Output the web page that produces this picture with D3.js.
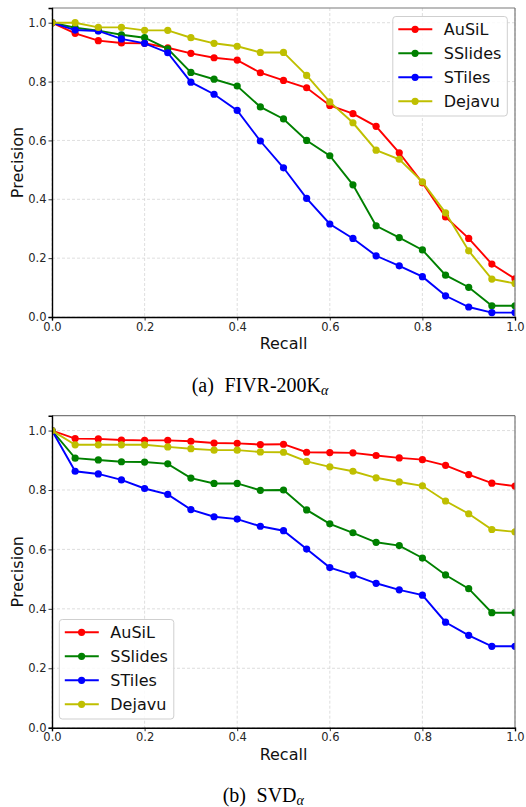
<!DOCTYPE html>
<html>
<head>
<meta charset="utf-8">
<script src="https://cdn.jsdelivr.net/npm/d3@7"></script>
<style>
  body { margin: 0; background: #fff; }
  svg { display: block; font-family: "DejaVu Sans", sans-serif; }
</style>
</head>
<body>
<div id="vis"></div>
<script>
// recall steps shared by every curve
let recall = [0, 0.05, 0.1, 0.15, 0.2, 0.25, 0.3, 0.35, 0.4, 0.45, 0.5,
              0.55, 0.6, 0.65, 0.7, 0.75, 0.8, 0.85, 0.9, 0.95, 1.0];

let methods = ["AuSiL", "SSlides", "STiles", "Dejavu"];
let colors = ["#ff0000", "#008000", "#0000ff", "#bfbf00"];
let ticks = [0, 0.2, 0.4, 0.6, 0.8, 1.0];

// (a) FIVR-200K
let fivrAusil = [1.0, 0.964, 0.939, 0.931, 0.930, 0.915, 0.896, 0.881, 0.873, 0.830, 0.804,
                 0.779, 0.719, 0.691, 0.648, 0.558, 0.456, 0.340, 0.267, 0.180, 0.130];
let fivrSslides = [1.0, 0.983, 0.973, 0.959, 0.949, 0.911, 0.831, 0.808, 0.785, 0.714, 0.673,
                   0.600, 0.548, 0.449, 0.310, 0.270, 0.228, 0.142, 0.101, 0.038, 0.038];
let fivrStiles = [1.0, 0.975, 0.972, 0.945, 0.930, 0.898, 0.798, 0.757, 0.702, 0.598, 0.507,
                  0.403, 0.316, 0.267, 0.208, 0.174, 0.137, 0.072, 0.034, 0.015, 0.015];
let fivrDejavu = [1.0, 1.0, 0.984, 0.984, 0.974, 0.974, 0.949, 0.930, 0.920, 0.899, 0.899,
                  0.821, 0.731, 0.660, 0.567, 0.536, 0.459, 0.354, 0.225, 0.129, 0.114];

// (b) SVD
let svdAusil = [1.0, 0.973, 0.972, 0.968, 0.967, 0.967, 0.964, 0.958, 0.957, 0.953, 0.954,
                0.927, 0.926, 0.925, 0.916, 0.908, 0.902, 0.883, 0.852, 0.823, 0.813];
let svdSslides = [1.0, 0.907, 0.901, 0.895, 0.894, 0.888, 0.840, 0.822, 0.822, 0.799, 0.800,
                  0.733, 0.686, 0.656, 0.624, 0.613, 0.571, 0.514, 0.468, 0.387, 0.387];
let svdStiles = [1.0, 0.863, 0.854, 0.834, 0.805, 0.785, 0.734, 0.710, 0.702, 0.678, 0.663,
                 0.601, 0.539, 0.514, 0.486, 0.464, 0.446, 0.355, 0.311, 0.274, 0.274];
let svdDejavu = [1.0, 0.952, 0.952, 0.952, 0.952, 0.945, 0.939, 0.934, 0.934, 0.928, 0.927,
                 0.896, 0.878, 0.863, 0.841, 0.827, 0.814, 0.763, 0.720, 0.667, 0.659];

let width = 526,
    height = 807;

let svg = d3.select("#vis")
    .append("svg")
    .attr("width", width)
    .attr("height", height);

function drawPanel(id, top, bottom, series, legendPos, caption) {
    let left = 52, right = 515;

    let x = d3.scaleLinear().domain([0, 1]).range([left, right]);
    let y = d3.scaleLinear().domain([0, 1.05]).range([bottom, top]);

    let g = svg.append("g").attr("class", "panel-" + id);

    // dashed grid
    g.append("g").selectAll("line.gx")
        .data(ticks).enter().append("line")
        .attr("x1", d => x(d)).attr("x2", d => x(d))
        .attr("y1", top).attr("y2", bottom)
        .attr("stroke", "#d6d6d6").attr("stroke-width", 0.8)
        .attr("stroke-dasharray", "3,2");
    g.append("g").selectAll("line.gy")
        .data(ticks).enter().append("line")
        .attr("x1", left).attr("x2", right)
        .attr("y1", d => y(d)).attr("y2", d => y(d))
        .attr("stroke", "#d6d6d6").attr("stroke-width", 0.8)
        .attr("stroke-dasharray", "3,2");

    g.append("clipPath").attr("id", "clip-" + id)
        .append("rect")
        .attr("x", left).attr("y", top)
        .attr("width", right - left).attr("height", bottom - top);

    let plot = g.append("g").attr("clip-path", "url(#clip-" + id + ")");
    let line = d3.line().x((d, i) => x(recall[i])).y(d => y(d));

    series.forEach(function (vals, k) {
        plot.append("path")
            .datum(vals)
            .attr("fill", "none")
            .attr("stroke", colors[k])
            .attr("stroke-width", 1.9)
            .attr("d", line);
        plot.selectAll(null)
            .data(vals).enter().append("circle")
            .attr("cx", (d, i) => x(recall[i]))
            .attr("cy", d => y(d))
            .attr("r", 3.6)
            .attr("fill", colors[k]);
    });

    // spines: top/right grey, left/bottom black
    g.append("line").attr("x1", left).attr("x2", right).attr("y1", top).attr("y2", top)
        .attr("stroke", "#7a7a7a").attr("stroke-width", 1.2);
    g.append("line").attr("x1", right).attr("x2", right).attr("y1", top).attr("y2", bottom)
        .attr("stroke", "#7a7a7a").attr("stroke-width", 1.2);

    let xAxis = g.append("g")
        .attr("transform", "translate(0," + bottom + ")")
        .call(d3.axisBottom(x).tickValues(ticks).tickFormat(d3.format(".1f"))
            .tickSize(3.5).tickPadding(2));
    let yAxis = g.append("g")
        .attr("transform", "translate(" + left + ",0)")
        .call(d3.axisLeft(y).tickValues(ticks).tickFormat(d3.format(".1f"))
            .tickSize(3.5).tickPadding(2));

    [xAxis, yAxis].forEach(function (ax) {
        ax.select(".domain").attr("stroke", "#000").attr("stroke-width", 1.4);
        ax.selectAll(".tick line").attr("stroke", "#000").attr("stroke-width", 0.8);
        ax.selectAll("text")
            .attr("fill", "#262626")
            .style("font-family", "DejaVu Sans, sans-serif")
            .style("font-size", "11.5px");
    });

    g.append("text")
        .attr("x", (left + right) / 2)
        .attr("y", bottom + 32)
        .attr("text-anchor", "middle")
        .attr("fill", "#111")
        .style("font-size", "16px")
        .text("Recall");

    g.append("text")
        .attr("transform", "translate(23.3," + (top + bottom) / 2 + ") rotate(-90)")
        .attr("text-anchor", "middle")
        .attr("fill", "#111")
        .style("font-size", "16px")
        .text("Precision");

    // legend
    let lg = g.append("g").attr("transform", "translate(" + legendPos[0] + "," + legendPos[1] + ")");
    lg.append("rect")
        .attr("width", 114.5).attr("height", 99.5)
        .attr("rx", 3)
        .attr("fill", "#fff").attr("fill-opacity", 0.85)
        .attr("stroke", "#cfcfcf").attr("stroke-width", 1);
    methods.forEach(function (name, k) {
        let ry = 12.8 + k * 24;
        lg.append("line")
            .attr("x1", 5.5).attr("x2", 39.5)
            .attr("y1", ry).attr("y2", ry)
            .attr("stroke", colors[k]).attr("stroke-width", 1.9);
        lg.append("circle")
            .attr("cx", 22.3).attr("cy", ry).attr("r", 3.6)
            .attr("fill", colors[k]);
        lg.append("text")
            .attr("x", 51)
            .attr("y", ry)
            .attr("dy", "0.36em")
            .attr("fill", "#111")
            .style("font-size", "16px")
            .text(name);
    });

    // caption
    let cap = svg.append("text")
        .attr("x", caption.x)
        .attr("y", caption.y)
        .attr("fill", "#000")
        .style("font-family", "Liberation Serif, Times New Roman, serif")
        .style("font-size", "20px");
    cap.append("tspan").text(caption.tag);
    cap.append("tspan").attr("dx", 10.5).text(caption.name);
    cap.append("tspan")
        .attr("dy", 3)
        .style("font-size", "14px")
        .style("font-style", "italic")
        .text("α");
}

drawPanel("a", 8, 317, [fivrAusil, fivrSslides, fivrStiles, fivrDejavu],
    [392.8, 16.5], {x: 191.7, y: 391.5, tag: "(a)", name: "FIVR-200K"});
drawPanel("b", 415.7, 727.7, [svdAusil, svdSslides, svdStiles, svdDejavu],
    [59.3, 619.5], {x: 222.7, y: 801.5, tag: "(b)", name: "SVD"});
</script>
</body>
</html>
